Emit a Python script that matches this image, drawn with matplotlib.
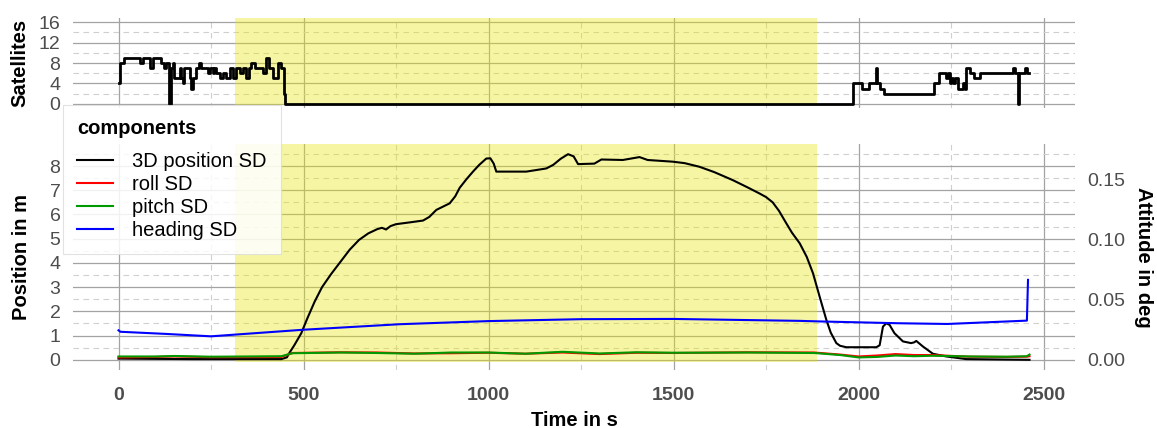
import matplotlib
matplotlib.use("Agg")
import matplotlib.pyplot as plt
from matplotlib.ticker import MultipleLocator, FixedLocator
from matplotlib.lines import Line2D

plt.rcParams['font.family'] = ['Liberation Sans', 'DejaVu Sans']

# satellites (step series)
sat_t = [0, 3, 16, 57, 66, 84, 93, 115, 124, 129, 136, 142, 147, 151, 165, 169,
         174, 178, 192, 196, 201, 210, 217, 223, 241, 246, 255, 259, 264, 273,
         282, 291, 300, 309, 318, 327, 336, 345, 352, 359, 368, 377, 390, 399,
         408, 417, 431, 440, 446, 448, 451,
         1985, 2010, 2028, 2048, 2051, 2057, 2070, 2205, 2217, 2237, 2241, 2246,
         2251, 2255, 2260, 2269, 2282, 2289, 2291, 2300, 2313, 2327, 2336, 2417,
         2422, 2431, 2434, 2449, 2455, 2460]
sat_n = [4, 8, 9, 8, 9, 7, 9, 8, 7, 8, 0, 7, 8, 5, 7, 5,
         4, 7, 5, 3, 5, 7, 8, 7, 6, 7, 6, 7, 6, 5,
         6, 5, 7, 5, 7, 6, 7, 5, 7, 8, 7, 7, 6, 9,
         7, 5, 8, 7, 4, 2, 0,
         4, 3, 4, 7, 4, 3, 2, 4, 6, 5, 6, 4,
         5, 4, 5, 3, 4, 3, 7, 6, 5, 6, 6, 7,
         6, 0, 6, 7, 6, 6]

# 3D position SD in m
pos_t = [0, 200, 440, 455, 462, 475, 494, 510, 530, 550, 575, 600, 625, 650, 675,
         700, 712, 723, 735, 750, 790, 823, 840, 859, 895, 910, 922, 940, 958, 975,
         994, 1005, 1014, 1021, 1102, 1156, 1175, 1195, 1215, 1230, 1242, 1286,
         1305, 1363, 1408, 1430, 1498, 1530, 1570, 1610, 1660, 1700, 1732, 1750,
         1768, 1785, 1805, 1820, 1841, 1860, 1877, 1895, 1913, 1925, 1940, 1950,
         1967, 2048, 2057, 2066, 2075, 2084, 2097, 2120, 2142, 2150, 2156, 2174,
         2201, 2237, 2291, 2462]
pos_sd = [0.05, 0.03, 0.03, 0.1, 0.29, 0.6, 1.1, 1.7, 2.4, 3.0, 3.55, 4.05, 4.55,
          4.95, 5.22, 5.4, 5.45, 5.38, 5.52, 5.6, 5.68, 5.75, 5.9, 6.19, 6.46,
          6.75, 7.1, 7.45, 7.77, 8.05, 8.31, 8.32, 8.1, 7.77, 7.77, 7.9, 8.05,
          8.3, 8.49, 8.4, 8.08, 8.1, 8.27, 8.25, 8.37, 8.25, 8.18, 8.12, 7.97,
          7.75, 7.42, 7.12, 6.87, 6.72, 6.5, 6.15, 5.63, 5.25, 4.81, 4.25, 3.57,
          2.6, 1.65, 1.12, 0.69, 0.58, 0.52, 0.52, 0.6, 1.37, 1.51, 1.44, 1.1,
          0.76, 0.69, 0.72, 0.78, 0.55, 0.25, 0.14, 0.03, 0.0]

# attitude SD in deg
att_t = [0, 100, 150, 250, 440, 470, 600, 700, 800, 900, 1000, 1100, 1200, 1300,
         1400, 1500, 1700, 1880, 1950, 2000, 2050, 2100, 2150, 2200, 2300, 2400,
         2455, 2462]
roll_sd = [0.0020, 0.0024, 0.0028, 0.0022, 0.0024, 0.0057, 0.0063, 0.0061, 0.0053,
           0.0055, 0.0059, 0.0051, 0.0061, 0.0048, 0.0059, 0.0057, 0.0063, 0.0061,
           0.0044, 0.0028, 0.0036, 0.0048, 0.0040, 0.0040, 0.0026, 0.0024, 0.0026,
           0.0030]
pitch_sd = [0.0028, 0.0028, 0.0032, 0.0026, 0.0030, 0.0055, 0.0061, 0.0057, 0.0051,
            0.0061, 0.0061, 0.0051, 0.0067, 0.0053, 0.0063, 0.0059, 0.0061, 0.0057,
            0.0040, 0.0020, 0.0024, 0.0036, 0.0030, 0.0034, 0.0028, 0.0026, 0.0030,
            0.0044]
head_t = [0, 5, 129, 250, 500, 760, 1000, 1250, 1500, 1840, 1910, 2110, 2240, 2455, 2458]
head_sd = [0.0246, 0.0234, 0.0216, 0.0196, 0.0251, 0.0297, 0.0323, 0.0339, 0.0341,
           0.0325, 0.0319, 0.0305, 0.0299, 0.0327, 0.0667]

outage = (314, 1889)
att_scale = 49.5

W, H = 1157, 428
fig = plt.figure(figsize=(W / 100, H / 100), dpi=100)
L, R = 73 / W, 1075 / W
ax_sat = fig.add_axes([L, 1 - 108 / H, R - L, (108 - 18) / H])
ax_pos = fig.add_axes([L, 1 - 370 / H, R - L, (370 - 144) / H])

major_c = '#a3a3a3'
minor_c = '#cfcfcf'
tick_c = '#4d4d4d'

for ax in (ax_sat, ax_pos):
    ax.set_xlim(-123, 2585)
    ax.xaxis.set_major_locator(MultipleLocator(500))
    ax.xaxis.set_minor_locator(MultipleLocator(250))
    ax.set_axisbelow(True)
    ax.grid(which='major', color=major_c, lw=0.9)
    ax.grid(which='minor', color=minor_c, lw=0.8, ls=(0, (5, 4)))
    for s in ax.spines.values():
        s.set_visible(False)
    ax.tick_params(which='both', length=0, colors=tick_c, labelsize=14)
    ax.tick_params(axis='y', pad=9)

# satellites panel
ax_sat.set_ylim(-0.8, 16.8)
ax_sat.yaxis.set_major_locator(MultipleLocator(4))
ax_sat.yaxis.set_minor_locator(MultipleLocator(2))
ax_sat.set_xticklabels([])
ax_sat.fill_between(outage, -0.2, 16.8, color='#e6e600', alpha=0.36, lw=0, zorder=1)
ax_sat.plot(sat_t, sat_n, drawstyle='steps-post', color='black', lw=2.0, zorder=3)
ax_sat.set_ylabel('Satellites', fontsize=14.5, fontweight='bold', labelpad=7)

# position / attitude panel
ax_pos.set_ylim(-0.42, 8.91)
ax_pos.yaxis.set_major_locator(FixedLocator(range(0, 9)))
ax_pos.yaxis.set_minor_locator(MultipleLocator(0.5))
ax_pos.fill_between(outage, -0.07, 8.91, color='#e6e600', alpha=0.36, lw=0, zorder=1)
ax_pos.plot(pos_t, pos_sd, color='black', lw=1.5, zorder=3)
for lab in ax_pos.get_xticklabels():
    lab.set_fontweight('bold')
ax_pos.tick_params(axis='x', pad=12)
ax_pos.set_xlabel('Time in s', fontsize=14.5, fontweight='bold', labelpad=5)
ax_pos.set_ylabel('Position in m', fontsize=14.5, fontweight='bold', labelpad=13)

ax_att = ax_pos.twinx()
ax_att.set_ylim(-0.42 / att_scale, 8.91 / att_scale)
ax_att.yaxis.set_major_locator(FixedLocator([0, 0.05, 0.10, 0.15]))
ax_att.yaxis.set_major_formatter(plt.FuncFormatter(lambda v, p: f'{v:.2f}'))
for s in ax_att.spines.values():
    s.set_visible(False)
ax_att.tick_params(length=0, colors=tick_c, labelsize=14, pad=9)
ax_att.plot(att_t, roll_sd, color='#ff0000', lw=1.5)
ax_att.plot(att_t, pitch_sd, color='#009900', lw=1.5)
ax_att.plot(head_t, head_sd, color='#0000ff', lw=1.5)
ax_att.set_ylabel('Attitude in deg', fontsize=14.5, fontweight='bold',
                  rotation=270, labelpad=20)

handles = [Line2D([], [], color='black', lw=1.5),
           Line2D([], [], color='#ff0000', lw=1.5),
           Line2D([], [], color='#009900', lw=1.5),
           Line2D([], [], color='#0000ff', lw=1.5)]
names = ['3D position SD', 'roll SD', 'pitch SD', 'heading SD']
leg = fig.legend(handles, names, title='components', loc='upper left',
                 bbox_to_anchor=(63 / W, 1 - 105 / H), borderaxespad=0,
                 fontsize=14.5, title_fontproperties={'weight': 'bold', 'size': 14.5},
                 alignment='left', handlelength=1.8, handletextpad=0.95,
                 labelspacing=0.2, borderpad=0.7, fancybox=False,
                 framealpha=0.85, edgecolor='#dddddd', facecolor='white')
leg.get_frame().set_linewidth(0.8)
# a bit more room under the title
leg._legend_box.sep = 10

fig.savefig('out.png', dpi=100)
